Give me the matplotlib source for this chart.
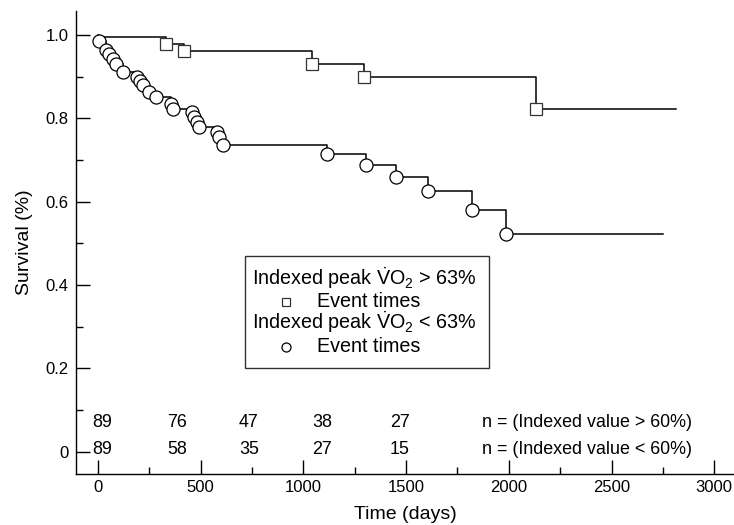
import numpy as np
import matplotlib.pyplot as plt
from matplotlib.patches import Rectangle
from matplotlib.lines import Line2D

plt.rcParams['font.family'] = ['Liberation Sans', 'DejaVu Sans']
plt.rcParams['mathtext.fontset'] = 'custom'
plt.rcParams['mathtext.rm'] = 'Liberation Sans'
plt.rcParams['mathtext.it'] = 'Liberation Sans:italic'

# Indexed peak VO2 > 63% : event times (days) and survival after each event
high_start = 0.994
high_times = [330, 420, 1040, 1297, 2130]
high_surv = [0.979, 0.962, 0.931, 0.899, 0.823]
high_end = 2814

# Indexed peak VO2 < 63%
low_start = 1.0
low_times = [6, 39, 55, 71, 88, 120, 188, 204, 218, 250, 282, 354, 364,
             456, 467, 483, 493, 578, 591, 607, 1116, 1305, 1451, 1608,
             1819, 1986]
low_surv = [0.986, 0.963, 0.953, 0.943, 0.931, 0.911, 0.899, 0.890, 0.879,
            0.863, 0.851, 0.835, 0.823, 0.815, 0.803, 0.791, 0.778, 0.766,
            0.754, 0.735, 0.714, 0.688, 0.659, 0.626, 0.580, 0.521]
low_end = 2749

# numbers at risk
risk_x = [20, 385, 735, 1090, 1470]
risk_high = [89, 76, 47, 38, 27]
risk_low = [89, 58, 35, 27, 15]
risk_high_label = 'n = (Indexed value > 60%)'
risk_low_label = 'n = (Indexed value < 60%)'

xticks = [0, 500, 1000, 1500, 2000, 2500, 3000]
yticks = [0, 0.2, 0.4, 0.6, 0.8, 1.0]
ytick_labels = ['0', '0.2', '0.4', '0.6', '0.8', '1.0']

fig = plt.figure(figsize=(7.34, 5.25), dpi=100)
ax = fig.add_axes([0.1035, 0.0977, 0.8965, 0.8819])

# step curves
ax.step(np.r_[0, high_times, high_end], np.r_[high_start, high_surv, high_surv[-1]],
        where='post', color='black', lw=1.1, zorder=2)
ax.step(np.r_[0, low_times, low_end], np.r_[low_start, low_surv, low_surv[-1]],
        where='post', color='black', lw=1.1, zorder=2)
ax.plot(high_times, high_surv, ls='none', marker='s', ms=8.4, mfc='white',
        mec='#333333', mew=0.9, zorder=3)
ax.plot(low_times, low_surv, ls='none', marker='o', ms=9.4, mfc='white',
        mec='black', mew=0.9, zorder=3)

# numbers at risk rows
for x, a, b in zip(risk_x, risk_high, risk_low):
    ax.text(x, 0.0695, str(a), ha='center', va='center', fontsize=12.9)
    ax.text(x, 0.004, str(b), ha='center', va='center', fontsize=12.9)
ax.text(1868, 0.0695, risk_high_label, ha='left', va='center', fontsize=12.9)
ax.text(1868, 0.004, risk_low_label, ha='left', va='center', fontsize=12.9)

# legend box
ax.add_patch(Rectangle((716, 0.200), 1186, 0.270, fill=False, ec='#333333',
                       lw=1.0, zorder=4))
vo2 = r'$\dot{\mathrm{V}}\mathrm{O}_2$'
ax.text(1298, 0.417, 'Indexed peak ' + vo2 + ' > 63%', ha='center', va='center',
        fontsize=14.2)
ax.text(1298, 0.310, 'Indexed peak ' + vo2 + ' < 63%', ha='center', va='center',
        fontsize=14.2)
ax.text(1068, 0.360, 'Event times', ha='left', va='center', fontsize=14.2)
ax.text(1068, 0.252, 'Event times', ha='left', va='center', fontsize=14.2)
ax.add_line(Line2D([915], [0.360], ls='none', marker='s', ms=6, mfc='white',
                   mec='#333333', mew=0.9))
ax.add_line(Line2D([915], [0.252], ls='none', marker='o', ms=6.5, mfc='white',
                   mec='black', mew=0.9))

ax.set_xlim(-107, 3096)
ax.set_ylim(-0.053, 1.058)
ax.set_xticks(xticks)
ax.set_xticks(np.arange(250, 3000, 500), minor=True)
ax.set_yticks(yticks)
ax.set_yticklabels(ytick_labels)
ax.set_yticks([0.1, 0.3, 0.5, 0.7, 0.9], minor=True)
ax.tick_params(which='major', direction='in', length=10, width=1.0, labelsize=12)
ax.tick_params(which='minor', direction='in', length=5, width=1.0)
ax.tick_params(axis='x', which='major', pad=4.7)
ax.tick_params(axis='y', which='major', pad=5.5)

ax.spines['top'].set_visible(False)
ax.spines['right'].set_visible(False)
ax.spines['left'].set_linewidth(1.0)
ax.spines['bottom'].set_linewidth(1.0)

ax.set_xlabel('Time (days)', fontsize=14, labelpad=8)
ax.set_ylabel('Survival (%)', fontsize=14, labelpad=9)

fig.savefig('out.png', dpi=100)
